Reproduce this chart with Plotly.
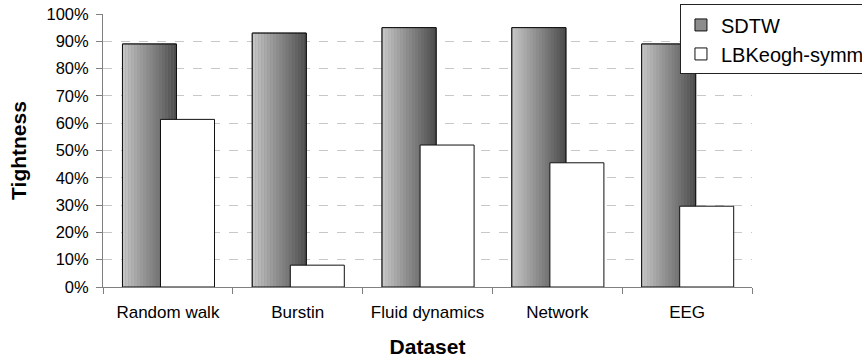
import plotly.graph_objects as go

# Tightness of lower bounds per dataset
datasets = ["Random walk", "Burstin", "Fluid dynamics", "Network", "EEG"]
sdtw = [0.89, 0.93, 0.95, 0.95, 0.89]
lbkeogh_symm = [0.614, 0.08, 0.52, 0.455, 0.296]
y_ticks = [0.0, 0.1, 0.2, 0.3, 0.4, 0.5, 0.6, 0.7, 0.8, 0.9, 1.0]

FONT = "Liberation Sans, Arial, sans-serif"
BAR_W = 0.416
SDTW_OFF = -0.35
LB_OFF = -0.057
N_STRIPS = 18

fig = go.Figure()

# SDTW base bar (carries the legend entry)
fig.add_trace(go.Bar(
    x=datasets, y=sdtw, name="SDTW",
    width=BAR_W, offset=SDTW_OFF,
    marker=dict(color="#8c8c8c", line=dict(color="#111111", width=1)),
    hoverinfo="skip",
))

# horizontal gray gradient across the SDTW bars, light on the left, dark on the right
for i in range(N_STRIPS):
    t = i / (N_STRIPS - 1)
    g = int(round(196 - t * (196 - 78)))
    fig.add_trace(go.Bar(
        x=datasets, y=sdtw, showlegend=False,
        width=BAR_W / N_STRIPS * 1.05,
        offset=SDTW_OFF + i * BAR_W / N_STRIPS,
        marker=dict(color=f"rgb({g},{g},{g})", line=dict(width=0)),
        hoverinfo="skip",
    ))

# SDTW outline on top of the gradient
fig.add_trace(go.Bar(
    x=datasets, y=sdtw, showlegend=False,
    width=BAR_W, offset=SDTW_OFF,
    marker=dict(color="rgba(0,0,0,0)", line=dict(color="#111111", width=1)),
    hoverinfo="skip",
))

fig.add_trace(go.Bar(
    x=datasets, y=lbkeogh_symm, name="LBKeogh-symm",
    width=BAR_W, offset=LB_OFF,
    marker=dict(color="#ffffff", line=dict(color="#111111", width=1)),
    hoverinfo="skip",
))

fig.update_layout(
    width=862, height=360,
    margin=dict(l=103, r=110, t=14, b=73, autoexpand=False),
    barmode="overlay",
    paper_bgcolor="white", plot_bgcolor="white",
    font=dict(family=FONT, size=16, color="#000000"),
    showlegend=True,
    legend=dict(
        x=0.889, y=1.035, xanchor="left", yanchor="top",
        bgcolor="white", bordercolor="#222222", borderwidth=1,
        font=dict(family=FONT, size=20, color="#000000"),
        tracegroupgap=0, itemwidth=30,
    ),
    xaxis=dict(
        type="category", range=[-0.5, 4.5], automargin=False,
        tickson="boundaries", ticks="outside", ticklen=6, tickcolor="#808080",
        showline=True, linecolor="#808080", linewidth=1,
        showgrid=False, ticklabelstandoff=10,
        tickfont=dict(family=FONT, size=17),
        title=dict(text="Dataset", font=dict(family=FONT, size=21, weight="bold"), standoff=17),
    ),
    yaxis=dict(
        range=[0, 1], tickvals=y_ticks, tickformat=".0%", automargin=False,
        ticks="outside", ticklen=6, tickcolor="#808080",
        showline=True, linecolor="#808080", linewidth=1,
        showgrid=True, gridcolor="#c8c8c8", griddash="dash", gridwidth=1,
        zeroline=False, ticklabelstandoff=4,
        tickfont=dict(family=FONT, size=16.5),
        title=dict(text="Tightness", font=dict(family=FONT, size=21, weight="bold"), standoff=14),
    ),
)

fig.write_html("out.html")
